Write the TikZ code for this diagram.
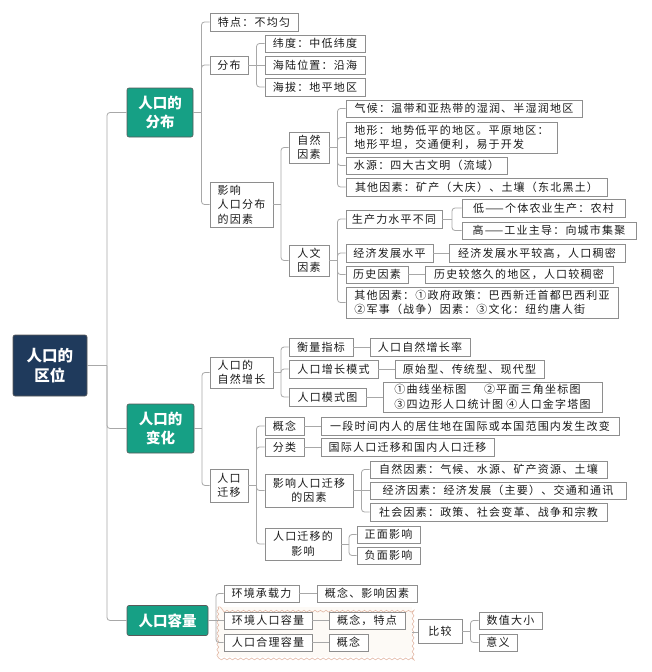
\documentclass[tikz,border=0pt]{standalone}
\usepackage{fontspec}
\newfontfamily\cjk[LetterSpace=11]{Noto Sans CJK SC}
\newfontfamily\cjkh{Noto Sans CJK SC}
\usetikzlibrary{calc,decorations.pathmorphing}
\definecolor{mgreen}{HTML}{16A085}
\definecolor{mblue}{HTML}{1F3A5C}
\definecolor{bord}{HTML}{8E8E8E}
\definecolor{lnc}{HTML}{A8A8A8}
\definecolor{txt}{HTML}{1A1A1A}
\definecolor{wavec}{HTML}{E3B9A6}
\definecolor{wavef}{HTML}{FDFAF6}
\tikzset{
 box/.style={draw=bord, line width=0.7pt, fill=white, text=txt,
   font=\cjk\fontsize{11}{14.5}\selectfont, inner xsep=2pt, inner ysep=0pt, align=center},
 lbox/.style={box, align=left},
 gbox/.style={draw=black!65, fill=mgreen, text=white, rounded corners=2pt,
   font=\cjkh\bfseries\fontsize{14.5}{18.5}\selectfont, align=center, line width=0.6pt},
 bbox/.style={gbox, fill=mblue, font=\cjkh\bfseries\fontsize{15.5}{20.5}\selectfont},
 conn/.style={draw=lnc, line width=0.8pt},
 wave/.style={draw=wavec, line width=0.6pt, decorate,
   decoration={snake, amplitude=0.9pt, segment length=5.5pt}},
}
\newcommand\bx[7][]{\node[box,#1,minimum width={#5pt-#3pt},minimum height={#6pt-#4pt}] (#2) at ({(#3+#5)/2},{(#4+#6)/2}) {#7};}
\newcommand\lk[2]{%
 \coordinate (jn) at ($(#1.east)!0.5!(#1.east-|#2.west)$);
 \draw[conn] (#1.east) -- (jn);
 \draw[conn,rounded corners=3pt] (jn) |- (#2.west);}
\newcommand\slk[2]{\draw[conn] (#1.east) -- (#1.east-|#2.west);}
\begin{document}
\begin{tikzpicture}[x=1pt,y=-1pt]
\fill[white] (0,0) rectangle (651,672);
\useasboundingbox (0,0) rectangle (651,672);

% frame behind capacity boxes
\node[inner sep=0pt,minimum width=194pt,minimum height=50pt] (F) at (315,632) {};
\fill[wavef] (F.north west) rectangle (F.south east);
\draw[wave] (F.north west) rectangle (F.south east);

% root
\bx[bbox]{R}{13}{335}{87}{396}{人口的\\区位}

% distribution
\bx[gbox]{A}{127}{88}{193}{137}{人口的\\分布}
\bx{A1}{210}{13}{298}{31}{特点：不均匀}
\bx{A2}{210}{56}{248}{74}{分布}
\bx{A21}{265}{35}{365}{52}{纬度：中低纬度}
\bx{A22}{265}{56}{365}{74}{海陆位置：沿海}
\bx{A23}{265}{78}{365}{96}{海拔：地平地区}
\bx[lbox]{A3}{210}{182}{273}{227}{影响\\人口分布\\的因素}
\bx{A31}{289}{132}{329}{163}{自然\\因素}
\bx{A311}{346}{100}{582}{117}{气候：温带和亚热带的湿润、半湿润地区}
\bx[lbox]{A312}{346}{122}{557}{153}{地形：地势低平的地区。平原地区：\\地形平坦，交通便利，易于开发}
\bx{A313}{346}{157}{507}{174}{水源：四大古文明（流域）}
\bx{A314}{346}{178}{607}{196}{其他因素：矿产（大庆）、土壤（东北黑土）}
\bx{A32}{289}{245}{329}{276}{人文\\因素}
\bx{A321}{346}{210}{442}{228}{生产力水平不同}
\bx{A3211}{462}{199}{625}{217}{低——个体农业生产：农村}
\bx{A3212}{462}{222}{636}{239}{高——工业主导：向城市集聚}
\bx{A322}{346}{244}{433}{262}{经济发展水平}
\bx{A3221}{449}{244}{625}{262}{经济发展水平较高，人口稠密}
\bx{A323}{346}{266}{408}{283}{历史因素}
\bx{A3231}{425}{266}{613}{283}{历史较悠久的地区，人口较稠密}
\bx[lbox]{A324}{346}{287}{618}{318}{其他因素：①政府政策：巴西新迁首都巴西利亚\\②军事（战争）因素：③文化：纽约唐人街}

% change
\bx[gbox]{B}{127}{404}{194}{453}{人口的\\变化}
\bx[lbox]{B1}{210}{357}{273}{388}{人口的\\自然增长}
\bx{B11}{289}{338}{353}{356}{衡量指标}
\bx{B111}{370}{338}{470}{356}{人口自然增长率}
\bx{B12}{289}{360}{378}{378}{人口增长模式}
\bx{B121}{395}{360}{544}{378}{原始型、传统型、现代型}
\bx{B13}{289}{388}{366}{406}{人口模式图}
\bx[lbox]{B131}{383}{382}{602}{412}{①曲线坐标图\hspace{1.6em}②平面三角坐标图\\③四边形人口统计图\hspace{0.3em}④人口金字塔图}
\bx{B2}{210}{469}{248}{502}{人口\\迁移}
\bx{B21}{265}{417}{304}{435}{概念}
\bx{B211}{321}{417}{619}{435}{一段时间内人的居住地在国际或本国范围内发生改变}
\bx{B22}{265}{438}{304}{456}{分类}
\bx{B221}{321}{438}{494}{456}{国际人口迁移和国内人口迁移}
\bx{B23}{265}{474}{353}{507}{影响人口迁移\\的因素}
\bx{B231}{370}{461}{607}{478}{自然因素：气候、水源、矿产资源、土壤}
\bx{B232}{370}{482}{626}{499}{经济因素：经济发展（主要）、交通和通讯}
\bx{B233}{370}{503}{607}{521}{社会因素：政策、社会变革、战争和宗教}
\bx{B24}{265}{528}{341}{560}{人口迁移的\\影响}
\bx{B241}{357}{526}{420}{543}{正面影响}
\bx{B242}{357}{547}{420}{564}{负面影响}

% capacity
\bx[gbox]{C}{127}{605.5}{208}{635.5}{人口容量}
\bx{C1}{224}{585}{299}{602}{环境承载力}
\bx{C11}{317}{585}{417}{602}{概念、影响因素}
\bx{C2}{224}{612}{312}{629}{环境人口容量}
\bx{C21}{329}{612}{405}{629}{概念，特点}
\bx{C3}{224}{634}{312}{651}{人口合理容量}
\bx{C31}{329}{634}{368}{651}{概念}
\bx{D}{418}{619}{462}{643}{比较}
\bx{D1}{479}{612}{542}{629}{数值大小}
\bx{D2}{479}{634}{517}{651}{意义}

% connectors
\lk{R}{A}\lk{R}{B}\lk{R}{C}
\lk{A}{A1}\lk{A}{A2}\lk{A}{A3}
\lk{A2}{A21}\slk{A2}{A22}\lk{A2}{A23}
\lk{A3}{A31}\lk{A3}{A32}
\lk{A31}{A311}\lk{A31}{A312}\lk{A31}{A313}\lk{A31}{A314}
\lk{A32}{A321}\lk{A32}{A322}\lk{A32}{A323}\lk{A32}{A324}
\lk{A321}{A3211}\lk{A321}{A3212}
\slk{A322}{A3221}\slk{A323}{A3231}
\lk{B}{B1}\lk{B}{B2}
\lk{B1}{B11}\lk{B1}{B12}\lk{B1}{B13}
\slk{B11}{B111}\slk{B12}{B121}\slk{B13}{B131}
\lk{B2}{B21}\lk{B2}{B22}\lk{B2}{B23}\lk{B2}{B24}
\slk{B21}{B211}\slk{B22}{B221}
\lk{B23}{B231}\slk{B23}{B232}\lk{B23}{B233}
\lk{B24}{B241}\lk{B24}{B242}
\lk{C}{C1}\slk{C}{C2}\lk{C}{C3}
\slk{C1}{C11}\slk{C2}{C21}\slk{C3}{C31}
\slk{F}{D}
\lk{D}{D1}\lk{D}{D2}
\end{tikzpicture}
\end{document}
